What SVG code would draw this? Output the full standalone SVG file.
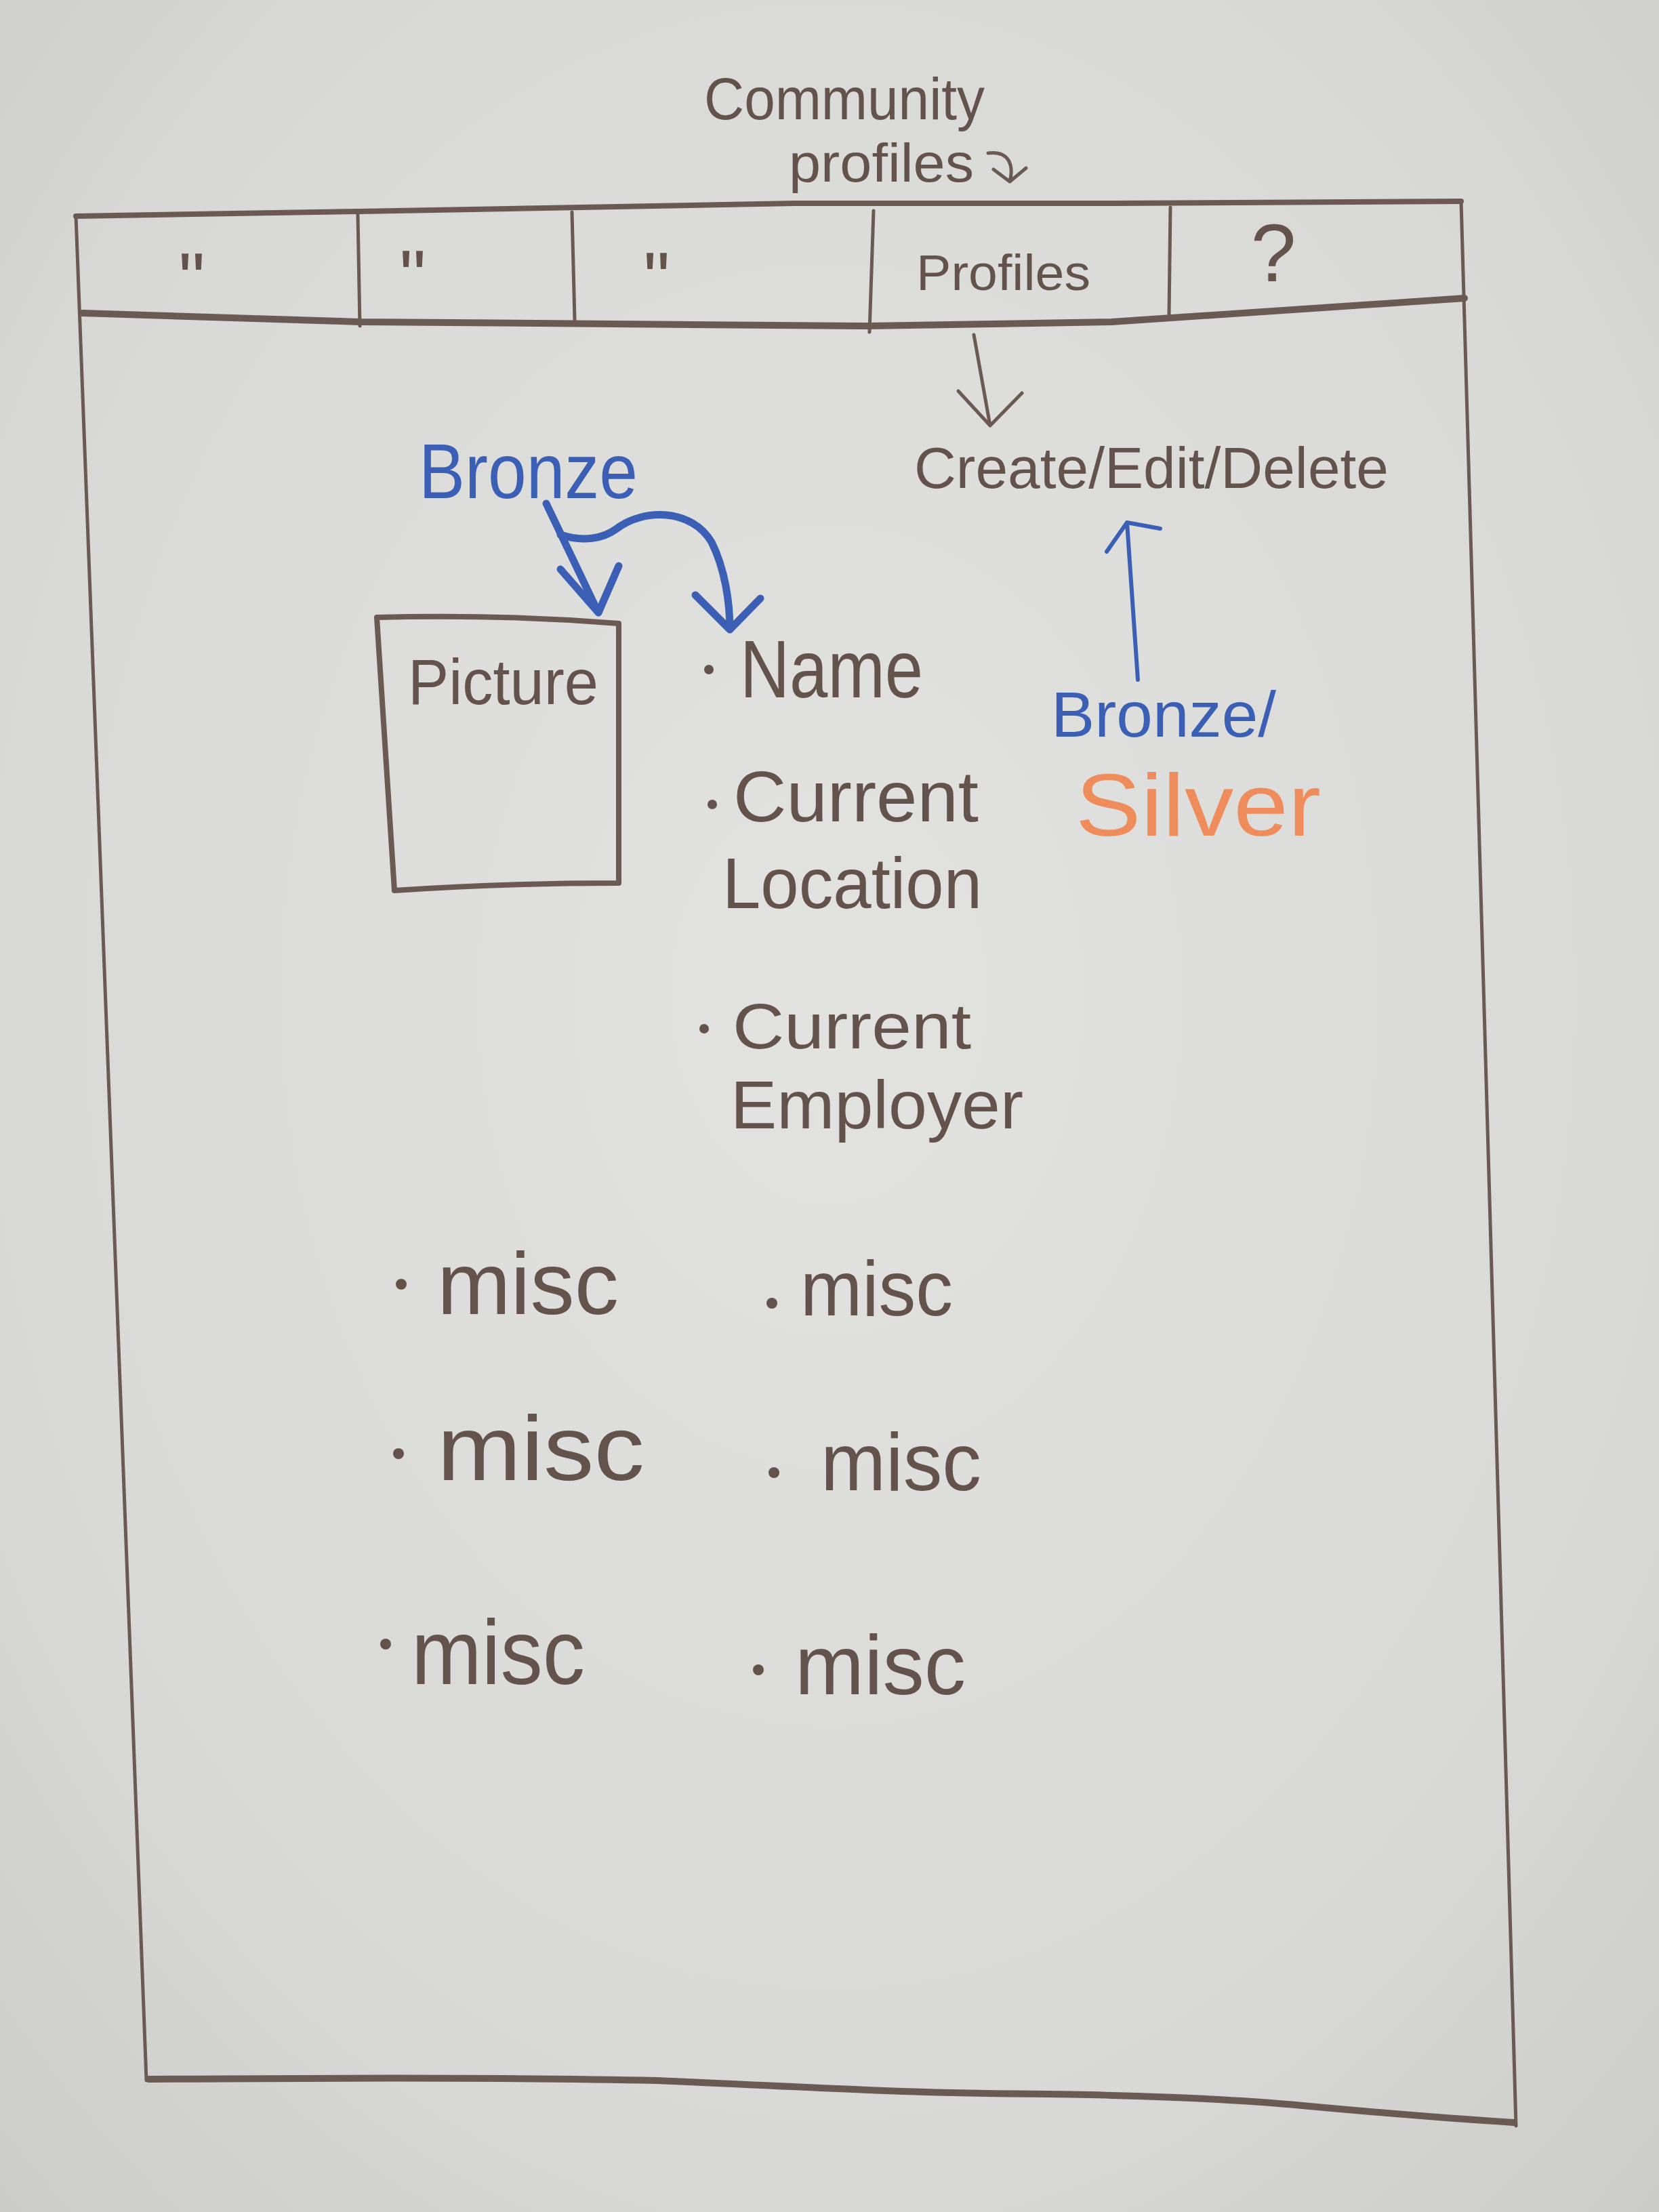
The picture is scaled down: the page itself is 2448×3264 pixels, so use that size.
<svg xmlns="http://www.w3.org/2000/svg" width="2448" height="3264" viewBox="0 0 2448 3264">
<defs>
<radialGradient id="bg" cx="50%" cy="45%" r="75%">
<stop offset="0" stop-color="#e2e2e0"/>
<stop offset="0.7" stop-color="#d8d8d6"/>
<stop offset="1" stop-color="#cbcbc8"/>
</radialGradient>
<style>
.ink{fill:none;stroke:#6a5a53;stroke-linecap:round;stroke-linejoin:round}
.thin{stroke-width:5}
.mid{stroke-width:8}
.thick{stroke-width:10}
.blue{fill:none;stroke:#3c5fb6;stroke-linecap:round;stroke-linejoin:round}
.t{font-family:"Liberation Sans",Arial,sans-serif;fill:#63534c}
.tb{font-family:"Liberation Sans",Arial,sans-serif;fill:#3c5fb6}
.to{font-family:"Liberation Sans",Arial,sans-serif;fill:#ef8c5c}
.dot{fill:#63534c}
</style>
</defs>
<rect x="0" y="0" width="2448" height="3264" fill="url(#bg)"/>

<g id="title">
<text class="t" x="1039" y="176" font-size="88" textLength="414" lengthAdjust="spacingAndGlyphs">Community</text>
<text class="t" x="1164" y="268" font-size="80" textLength="273" lengthAdjust="spacingAndGlyphs">profiles</text>
</g>

<g id="frame">
<path class="ink mid" d="M112,319 L530,312 L1172,300 L1640,300 L2156,297"/>
<path class="ink thin" d="M112,319 L216,3070"/>
<path class="ink thin" d="M2156,297 L2237,3137"/>
<path class="ink thick" d="M219,3068 C500,3066 800,3066 969,3070 C1150,3078 1300,3086 1406,3088 C1500,3090 1580,3090 1641,3092 C1760,3095 1850,3100 1922,3107 C2040,3118 2140,3126 2234,3132"/>
</g>

<g id="tabbar">
<path class="ink thick" d="M122,462 L531,475 L1281,481 L1640,475 L2161,440"/>
<path class="ink thin" d="M528,317 L531,481"/>
<path class="ink thin" d="M844,313 L848,472"/>
<path class="ink thin" d="M1289,311 L1283,490"/>
<path class="ink thin" d="M1727,306 L1725,465"/>
</g>

<g id="tab1"><text class="t" x="283" y="450" font-size="110" text-anchor="middle">"</text></g>
<g id="tab2"><text class="t" x="609" y="446" font-size="110" text-anchor="middle">"</text></g>
<g id="tab3"><text class="t" x="969" y="449" font-size="110" text-anchor="middle">"</text></g>
<g id="tab-profiles"><text class="t" x="1352" y="428" font-size="75" textLength="257" lengthAdjust="spacingAndGlyphs">Profiles</text></g>
<g id="tab-unknown"><text class="t" x="1879" y="415" font-size="120" text-anchor="middle">?</text></g>

<g id="create-edit-delete">
<text class="t" x="1349" y="720" font-size="85" textLength="700" lengthAdjust="spacingAndGlyphs">Create/Edit/Delete</text>
</g>

<g id="bronze-label">
<text class="tb" x="618" y="735" font-size="115" textLength="323" lengthAdjust="spacingAndGlyphs">Bronze</text>
</g>

<g id="picture">
<path class="ink mid" d="M556,911 Q735,906 913,920 L913,1303 Q750,1303 582,1314 Z"/>
<text class="t" x="602" y="1039" font-size="95" textLength="281" lengthAdjust="spacingAndGlyphs">Picture</text>
</g>

<g id="name">
<circle class="dot" cx="1046" cy="988" r="7"/>
<text class="t" x="1092" y="1029" font-size="120" textLength="270" lengthAdjust="spacingAndGlyphs">Name</text>
</g>

<g id="current-location">
<circle class="dot" cx="1051" cy="1187" r="7"/>
<text class="t" x="1082" y="1212" font-size="105" textLength="362" lengthAdjust="spacingAndGlyphs">Current</text>
<text class="t" x="1066" y="1340" font-size="105" textLength="383" lengthAdjust="spacingAndGlyphs">Location</text>
</g>

<g id="current-employer">
<circle class="dot" cx="1039" cy="1518" r="7"/>
<text class="t" x="1081" y="1547" font-size="95" textLength="352" lengthAdjust="spacingAndGlyphs">Current</text>
<text class="t" x="1078" y="1665" font-size="100" textLength="432" lengthAdjust="spacingAndGlyphs">Employer</text>
</g>

<g id="bronze-silver">
<text class="tb" x="1551" y="1087" font-size="95" textLength="332" lengthAdjust="spacingAndGlyphs">Bronze/</text>
<text class="to" x="1587" y="1233" font-size="130" textLength="362" lengthAdjust="spacingAndGlyphs">Silver</text>
</g>

<g id="misc-1"><circle class="dot" cx="592" cy="1895" r="8"/><text class="t" x="645" y="1939" font-size="130" textLength="268" lengthAdjust="spacingAndGlyphs">misc</text></g>
<g id="misc-2"><circle class="dot" cx="1139" cy="1923" r="8"/><text class="t" x="1181" y="1941" font-size="115" textLength="225" lengthAdjust="spacingAndGlyphs">misc</text></g>
<g id="misc-3"><circle class="dot" cx="588" cy="2145" r="8"/><text class="t" x="645" y="2184" font-size="135" textLength="306" lengthAdjust="spacingAndGlyphs">misc</text></g>
<g id="misc-4"><circle class="dot" cx="1142" cy="2173" r="8"/><text class="t" x="1211" y="2199" font-size="120" textLength="237" lengthAdjust="spacingAndGlyphs">misc</text></g>
<g id="misc-5"><circle class="dot" cx="569" cy="2426" r="8"/><text class="t" x="607" y="2485" font-size="135" textLength="256" lengthAdjust="spacingAndGlyphs">misc</text></g>
<g id="misc-6"><circle class="dot" cx="1119" cy="2464" r="8"/><text class="t" x="1173" y="2500" font-size="125" textLength="252" lengthAdjust="spacingAndGlyphs">misc</text></g>

<g id="connectors">
<path class="ink thin" d="M1458,226 C1490,222 1496,245 1490,268 M1466,250 L1490,268 L1514,248"/>
<path class="ink thin" d="M1437,494 L1461,628 M1414,577 L1461,628 L1508,580"/>
<path class="blue" stroke-width="11" d="M806,743 L883,904 M827,840 L883,904 L913,835"/>
<path class="blue" stroke-width="11" d="M827,789 C860,800 890,795 910,780 C950,750 1020,750 1050,800 C1070,840 1077,890 1077,929 M1026,878 L1077,929 L1122,883"/>
<path class="blue" stroke-width="6" d="M1679,1003 L1663,771 M1633,814 L1663,771 L1712,780"/>
</g>
</svg>
